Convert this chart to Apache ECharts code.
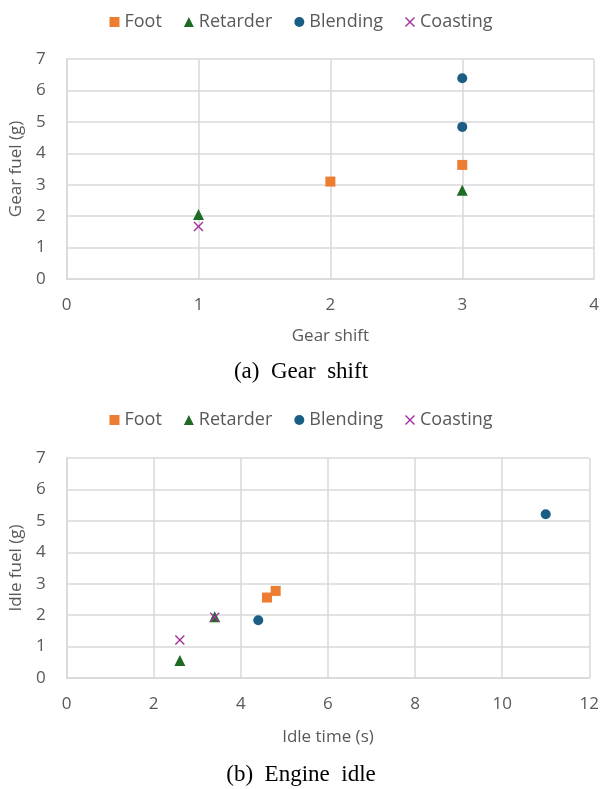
<!DOCTYPE html>
<html>
<head>
<meta charset="utf-8">
<script src="https://cdn.jsdelivr.net/npm/echarts@6/dist/echarts.min.js"></script>
<style>
  html, body { margin: 0; padding: 0; background: #fff; }
  #chart { width: 602px; height: 789px; }
</style>
</head>
<body>
<div id="chart"></div>
<script>
// (a) gear shift: [gear shift, gear fuel g]
const gearFoot = [[2, 3.1], [3, 3.63]];
const gearRetarder = [[1, 2.05], [3, 2.82]];
const gearBlending = [[3, 6.39], [3, 4.84]];
const gearCoasting = [[1, 1.67]];

// (b) engine idle: [idle time s, idle fuel g]
const idleFoot = [[4.6, 2.56], [4.8, 2.77]];
const idleRetarder = [[2.6, 0.56], [3.4, 1.95]];
const idleBlending = [[4.4, 1.84], [11, 5.21]];
const idleCoasting = [[2.6, 1.21], [3.4, 1.93]];

const seriesNames = ['Foot', 'Retarder', 'Blending', 'Coasting'];
const captions = ['(a)  Gear  shift', '(b)  Engine  idle'];

const colors = ['#ED7D31', '#1E6B26', '#1B5E84', '#A3339C'];
const crossPath = 'path://M0,1L1,0L5,4L9,0L10,1L6,5L10,9L9,10L5,6L1,10L0,9L4,5Z';
const symbols = ['rect', 'triangle', 'circle', crossPath];
const sizes = [10, 11, 10, 10];

const font = '"Open Sans", "Noto Sans", sans-serif';
const gray = '#595959';
const gridColor = '#D9D9D9';

function makeSeries(dataSets, axisIdx) {
  return dataSets.map((d, i) => ({
    name: seriesNames[i],
    type: 'scatter',
    xAxisIndex: axisIdx,
    yAxisIndex: axisIdx,
    data: d,
    symbol: symbols[i],
    symbolSize: sizes[i],
    itemStyle: { color: colors[i], opacity: 1 }
  }));
}

function xAxis(gridIndex, max, interval, name, gap) {
  return {
    type: 'value', gridIndex, min: 0, max, interval,
    name, nameLocation: 'middle', nameGap: gap,
    nameTextStyle: { color: gray, fontSize: 17, fontFamily: font },
    axisLine: { show: true, lineStyle: { color: gridColor, width: 1.5 } },
    axisTick: { show: false },
    axisLabel: { color: gray, fontSize: 17, fontFamily: font, margin: 18 },
    splitLine: { show: true, lineStyle: { color: gridColor, width: 1.5 } }
  };
}

function yAxis(gridIndex, name) {
  return {
    type: 'value', gridIndex, min: 0, max: 7, interval: 1,
    name, nameLocation: 'middle', nameGap: 38,
    nameTextStyle: { color: gray, fontSize: 17, fontFamily: font },
    axisLine: { show: true, lineStyle: { color: gridColor, width: 1.5 } },
    axisTick: { show: false },
    axisLabel: { color: gray, fontSize: 17, fontFamily: font, margin: 21 },
    splitLine: { show: true, lineStyle: { color: gridColor, width: 1.5 } }
  };
}

function legend(top) {
  return {
    top, left: 'center',
    itemWidth: 10, itemHeight: 10, itemGap: 22,
    selectedMode: false,
    textStyle: { color: gray, fontSize: 18, fontFamily: font },
    data: seriesNames.map((n, i) => ({ name: n, icon: symbols[i] }))
  };
}

const captionStyle = { fontFamily: '"Liberation Serif", serif', fontSize: 23, fontWeight: 'normal', color: '#000' };

const chart = echarts.init(document.getElementById('chart'), null, { renderer: 'canvas' });
chart.setOption({
  backgroundColor: '#fff',
  animation: false,
  title: [
    { text: captions[0], left: 'center', top: 355, textStyle: captionStyle },
    { text: captions[1], left: 'center', top: 758, textStyle: captionStyle }
  ],
  legend: [legend(8), legend(406)],
  grid: [
    { left: 65, right: 5, top: 59, height: 220 },
    { left: 64, right: 12, top: 458, height: 220 }
  ],
  xAxis: [xAxis(0, 4, 1, 'Gear shift', 49), xAxis(1, 12, 2, 'Idle time (s)', 51)],
  yAxis: [yAxis(0, 'Gear fuel (g)'), yAxis(1, 'Idle fuel (g)')],
  series: makeSeries([gearFoot, gearRetarder, gearBlending, gearCoasting], 0)
    .concat(makeSeries([idleFoot, idleRetarder, idleBlending, idleCoasting], 1))
});
</script>
</body>
</html>
